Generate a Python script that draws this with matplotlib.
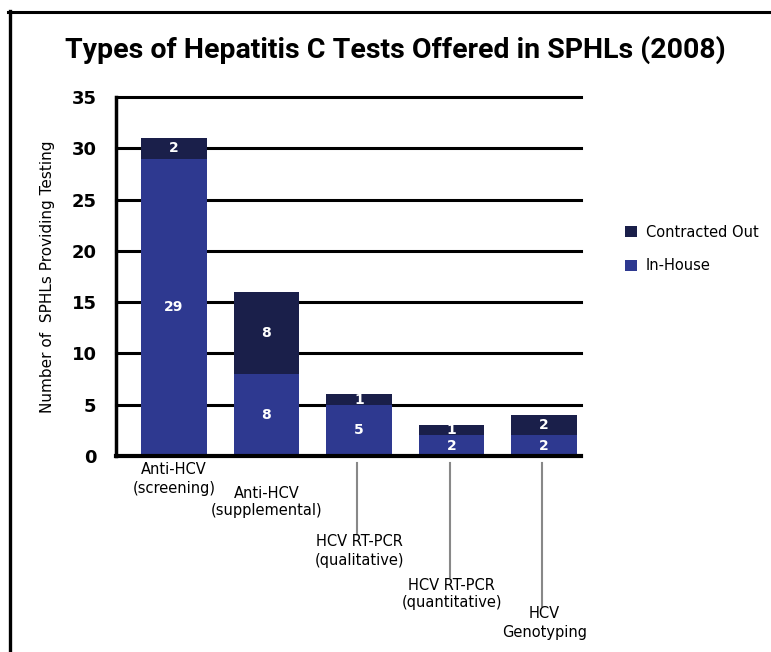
import numpy as np
import matplotlib.pyplot as plt
from matplotlib.lines import Line2D

# datos
categorias = ['Anti-HCV\n(screening)', 'Anti-HCV\n(supplemental)',
              'HCV RT-PCR\n(qualitative)', 'HCV RT-PCR\n(quantitative)',
              'HCV\nGenotyping']
in_house = [29, 8, 5, 2, 2]
contratado = [2, 8, 1, 1, 2]
y_ticks = [0, 5, 10, 15, 20, 25, 30, 35]

c_in = '#2e3990'
c_out = '#1a1f4a'

W, H = 771, 652
fig = plt.figure(figsize=(W / 100, H / 100), dpi=100)

# marco
fig.add_artist(Line2D([8 / W, 1], [1 - 12 / H, 1 - 12 / H], color='black', lw=2.2))
fig.add_artist(Line2D([10 / W, 10 / W], [0, 1 - 11 / H], color='black', lw=2.4))

# ejes en pixeles
x0, x1 = 116, 581
y0, y1 = 456, 97
ax = fig.add_axes([x0 / W, 1 - y0 / H, (x1 - x0) / W, (y0 - y1) / H])

x = np.arange(len(categorias))
ancho = 0.71
ax.bar(x, in_house, ancho, color=c_in, label='In-House', zorder=3)
ax.bar(x, contratado, ancho, bottom=in_house, color=c_out,
       label='Contracted Out', zorder=3)

for i in range(len(x)):
    ax.text(x[i], in_house[i] / 2, str(in_house[i]), color='white',
            ha='center', va='center', fontsize=10, fontweight='bold', zorder=4)
    ax.text(x[i], in_house[i] + contratado[i] / 2, str(contratado[i]),
            color='white', ha='center', va='center', fontsize=10,
            fontweight='bold', zorder=4)

ax.set_xlim(-0.626, 4.40)
ax.set_ylim(0, 35)
ax.set_yticks(y_ticks)
ax.set_yticklabels([str(v) for v in y_ticks], fontsize=13, fontweight='bold')
ax.tick_params(axis='y', length=0, pad=14)
ax.set_xticks([])
for yv in y_ticks[1:]:
    ax.axhline(yv, color='black', lw=2.2, zorder=1, clip_on=False)
for s in ['top', 'right']:
    ax.spines[s].set_visible(False)
ax.spines['left'].set_linewidth(2.5)
ax.spines['bottom'].set_linewidth(3)
ax.spines['bottom'].set_zorder(5)

ax.set_ylabel('Number of  SPHLs Providing Testing', fontsize=11, labelpad=12)

# etiquetas escalonadas con lineas guia
label_y = [479, 502, 551, 594, 623]
for i, lab in enumerate(categorias):
    ytop = label_y[i] - 11
    if i >= 2:
        fig.add_artist(Line2D([(174 + 92.6 * i - 2) / W] * 2,
                              [1 - 463 / H, 1 - (ytop - 6) / H],
                              color='#888888', lw=1.5))
    fig.text((174 + 92.6 * i) / W, 1 - label_y[i] / H, lab, ha='center',
             va='center', fontsize=10.5, linespacing=1.25)

fig.text(395 / W, 1 - 50 / H,
         'Types of Hepatitis C Tests Offered in SPHLs (2008)',
         ha='center', va='center', fontsize=20.5, fontweight='bold',
         family=['Roboto', 'DejaVu Sans'])

h, l = ax.get_legend_handles_labels()
fig.legend(h[::-1], l[::-1], loc='center left',
           bbox_to_anchor=(612 / W, 1 - 249 / H), frameon=False,
           fontsize=10.5, handlelength=0.8, handleheight=0.8,
           handletextpad=0.6, labelspacing=1.3)

fig.savefig('out.png', dpi=100)
